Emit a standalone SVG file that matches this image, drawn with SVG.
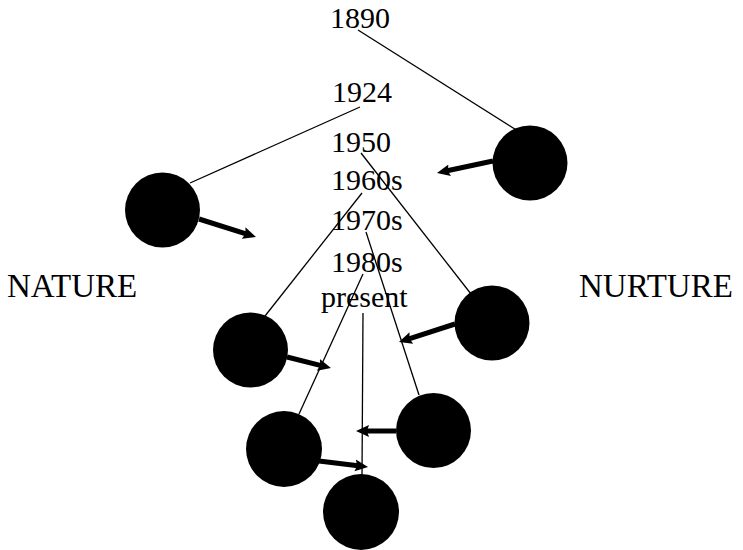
<svg xmlns="http://www.w3.org/2000/svg" width="743" height="550" viewBox="0 0 743 550">
<style>
.yr{font-size:30px;font-family:Liberation Serif, Times New Roman, serif}
.big{font-size:33px;font-family:Liberation Serif, Times New Roman, serif}
.ln{stroke:#000;stroke-width:1.3;fill:none}
.ar{stroke:#000;stroke-width:5;fill:none;marker-end:url(#ah)}
.dot{fill:#000}
</style>
<defs>
<marker id="ah" markerUnits="userSpaceOnUse" markerWidth="14" markerHeight="14" refX="5" refY="6" orient="auto" viewBox="0 0 14 12">
<path d="M0,0 L13,6 L0,12 L2,6 z" fill="#000"/>
</marker>
</defs>
<rect width="743" height="550" fill="#fff"/>
<g id="labels" fill="#000">
<g id="y1890"><text class="yr" x="330" y="28">1890</text></g>
<g id="y1924"><text class="yr" x="332" y="102">1924</text></g>
<g id="y1950"><text class="yr" x="331" y="152">1950</text></g>
<g id="y1960s"><text class="yr" x="331" y="190">1960s</text></g>
<g id="y1970s"><text class="yr" x="331" y="230">1970s</text></g>
<g id="y1980s"><text class="yr" x="331" y="272">1980s</text></g>
<g id="ypresent"><text class="yr" x="321" y="307">present</text></g>
<g id="nature"><text class="big" x="7" y="297">NATURE</text></g>
<g id="nurture"><text class="big" x="579" y="297">NURTURE</text></g>
</g>
<g id="connectors">
<line class="ln" x1="358" y1="30" x2="518" y2="131"/>
<line class="ln" x1="360" y1="107" x2="190" y2="183"/>
<line class="ln" x1="361" y1="153" x2="471" y2="294"/>
<line class="ln" x1="362" y1="193" x2="265" y2="316"/>
<line class="ln" x1="366" y1="232" x2="419" y2="395"/>
<line class="ln" x1="363" y1="274" x2="299" y2="414"/>
<line class="ln" x1="363" y1="313" x2="362" y2="475"/>
<line class="ar" x1="199" y1="219" x2="248.4" y2="234.6"/>
<line class="ar" x1="493" y1="161" x2="444.8" y2="171.3"/>
<line class="ar" x1="287" y1="357" x2="323.2" y2="366.1"/>
<line class="ar" x1="455" y1="324" x2="406.6" y2="339.6"/>
<line class="ar" x1="396" y1="431" x2="364" y2="431"/>
<line class="ar" x1="319" y1="461" x2="360.1" y2="466"/>
</g>
<g id="n1"><circle class="dot" cx="162.5" cy="210" r="37.5"/></g>
<g id="n2"><circle class="dot" cx="530" cy="163" r="37.5"/></g>
<g id="n3"><circle class="dot" cx="250.5" cy="350" r="37.5"/></g>
<g id="n4"><circle class="dot" cx="492" cy="323" r="37.5"/></g>
<g id="n5"><circle class="dot" cx="284" cy="449" r="38"/></g>
<g id="n6"><circle class="dot" cx="433.5" cy="430.5" r="37.5"/></g>
<g id="n7"><circle class="dot" cx="361" cy="512" r="38"/></g>
</svg>
